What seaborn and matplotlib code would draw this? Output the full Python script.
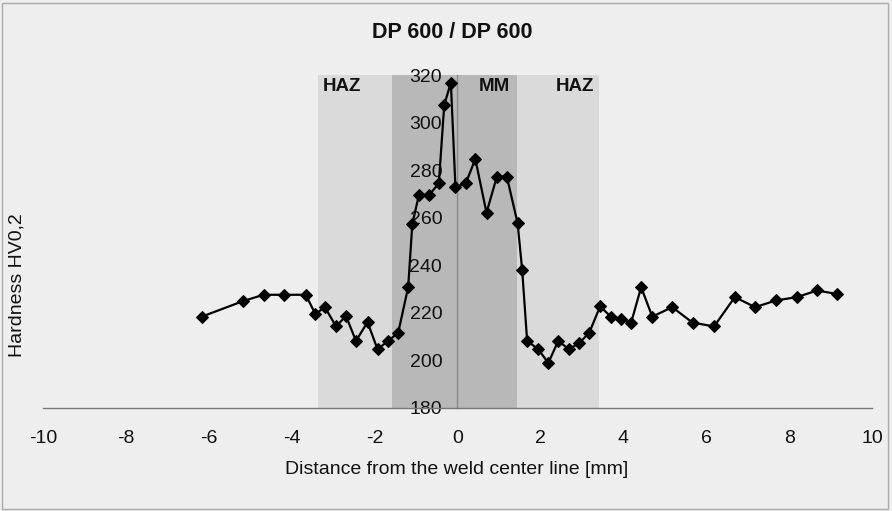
import matplotlib
matplotlib.use("Agg")
import matplotlib.pyplot as plt
import seaborn as sns
import pandas as pd
from matplotlib.patches import Rectangle

# Data
distance_mm = [-6.17, -5.18, -4.68, -4.18, -3.66, -3.43, -3.20, -2.93, -2.69, -2.45,
               -2.17, -1.93, -1.67, -1.43, -1.19, -1.09, -0.93, -0.68, -0.45, -0.32,
               -0.16, -0.05, 0.20, 0.43, 0.70, 0.95, 1.19, 1.45, 1.56, 1.68,
               1.95, 2.19, 2.43, 2.69, 2.94, 3.18, 3.44, 3.70, 3.94, 4.19,
               4.43, 4.70, 5.18, 5.67, 6.19, 6.69, 7.18, 7.68, 8.18, 8.68, 9.16]
hardness = [218.4, 224.9, 227.6, 227.6, 227.6, 219.5, 222.4, 214.3, 218.7, 208.2,
            216.1, 204.7, 208.2, 211.7, 230.8, 257.4, 269.6, 269.6, 274.5, 307.4,
            316.8, 272.8, 274.5, 284.7, 262.1, 277.3, 277.3, 257.7, 238.1, 208.2,
            204.7, 198.9, 208.2, 204.7, 207.3, 211.7, 222.7, 218.4, 217.4, 215.9,
            230.8, 218.4, 222.4, 215.9, 214.3, 226.6, 222.4, 225.2, 226.6, 229.4, 227.9]

haz_zone = (-3.37, 3.41)
mm_zone = (-1.58, 1.44)
zone_labels = ["HAZ", "MM", "HAZ"]
zone_label_x = [-2.79, 0.90, 2.83]
x_ticks = [-10, -8, -6, -4, -2, 0, 2, 4, 6, 8, 10]
y_ticks = [180, 200, 220, 240, 260, 280, 300, 320]

sns.set_style("white")
plt.rcParams['font.family'] = ['Liberation Sans', 'DejaVu Sans']
plt.rcParams['axes.unicode_minus'] = False

bg = "#eeeeee"
fig = plt.figure(figsize=(8.92, 5.11), dpi=100, facecolor=bg)
ax = fig.add_axes([43/892, 1-408/511, (872-43)/892, (408-75)/511])
ax.set_facecolor(bg)

ax.set_xlim(-10, 10)
ax.set_ylim(180, 320)

ax.axvspan(haz_zone[0], haz_zone[1], color="#dadada", zorder=0, lw=0)
ax.axvspan(mm_zone[0], mm_zone[1], color="#b8b8b8", zorder=0, lw=0)

df = pd.DataFrame({"d": distance_mm, "h": hardness})
sns.lineplot(data=df, x="d", y="h", sort=False, color="black", marker="D",
             markersize=6.5, markeredgecolor="black", linewidth=1.6, ax=ax, zorder=5)

for lbl, lx in zip(zone_labels, zone_label_x):
    ax.text(lx, 315.3, lbl, ha="center", va="center", fontsize=13.5,
            fontweight="bold", color="#111111")

for s in ["top", "right"]:
    ax.spines[s].set_visible(False)
ax.spines["left"].set_position(("data", 0))
ax.spines["left"].set_color("#8a8a8a")
ax.spines["bottom"].set_color("#777777")
ax.spines["left"].set_linewidth(1.0)
ax.spines["bottom"].set_linewidth(1.0)

ax.set_xticks(x_ticks)
ax.set_yticks(y_ticks)
ax.tick_params(axis="both", direction="out", length=4, width=1, color="#777777",
               labelsize=14, labelcolor="#111111")
ax.tick_params(axis="x", pad=12)
ax.tick_params(axis="y", pad=7)
ax.set_xlabel("")
ax.set_ylabel("")

fig.text(452/892, 1-33/511, "DP 600 / DP 600", ha="center", va="center",
         fontsize=15.5, fontweight="bold", color="#111111")
fig.text(457/892, 1-469/511, "Distance from the weld center line [mm]",
         ha="center", va="center", fontsize=14, color="#111111")
fig.text(17/892, 1-285/511, "Hardness HV0,2", ha="center", va="center",
         rotation=90, fontsize=14, color="#111111")

fig.patches.append(Rectangle((0.002, 0.004), 0.994, 0.99, transform=fig.transFigure,
                             fill=False, edgecolor="#aaaaaa", linewidth=1.0))

fig.savefig("out.png", dpi=100, facecolor=bg)
